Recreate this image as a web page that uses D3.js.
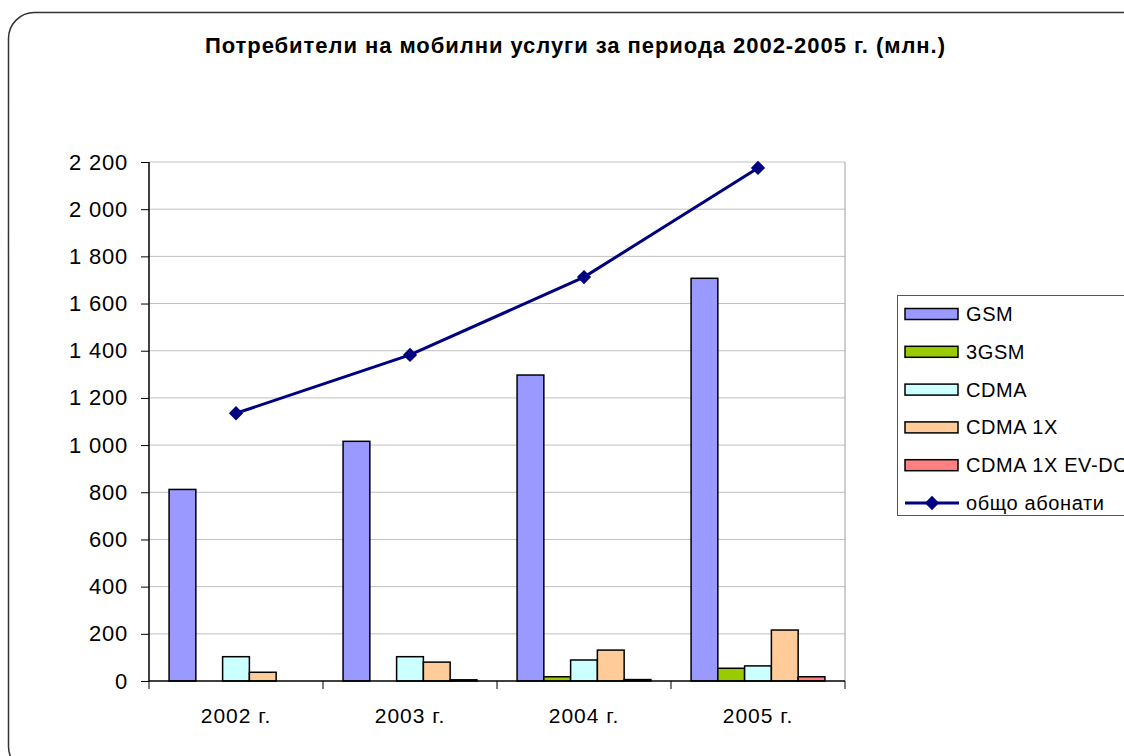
<!DOCTYPE html>
<html>
<head>
<meta charset="utf-8">
<script src="https://cdn.jsdelivr.net/npm/d3@7"></script>
<style>
  body { margin: 0; background: #fff; }
  svg { display: block; font-family: "Liberation Sans", Arial, sans-serif; }
</style>
</head>
<body>
<div id="chart"></div>
<script>
// data
let years = ["2002 г.", "2003 г.", "2004 г.", "2005 г."];
let seriesNames = ["GSM", "3GSM", "CDMA", "CDMA 1X", "CDMA 1X EV-DO"];
let gsm = [812, 1016, 1297, 1707];
let gsm3 = [0, 0, 18, 54];
let cdma = [103, 103, 89, 64];
let cdma1x = [37, 80, 131, 216];
let evdo = [0, 5, 6, 18];
let total = [1135, 1382, 1712, 2175];
let totalName = "общо абонати";
let yTicks = [0, 200, 400, 600, 800, 1000, 1200, 1400, 1600, 1800, 2000, 2200];

let colors = ["#9999ff", "#99cc00", "#ccffff", "#ffcc99", "#ff8080"];
let lineColor = "#000080";

let width = 1124, height = 756;
let plot = {left: 149, right: 845, top: 162, bottom: 681};

let svg = d3.select("#chart").append("svg")
    .attr("width", width)
    .attr("height", height);

// outer rounded frame
svg.append("rect")
    .attr("x", 8.5).attr("y", 12.5)
    .attr("width", 1140).attr("height", 760)
    .attr("rx", 26).attr("ry", 26)
    .attr("fill", "none")
    .attr("stroke", "#333")
    .attr("stroke-width", 1.5);

svg.append("text")
    .attr("x", 575).attr("y", 53)
    .attr("text-anchor", "middle")
    .attr("font-weight", "bold")
    .attr("font-size", 22)
    .attr("textLength", 740)
    .attr("lengthAdjust", "spacing")
    .text("Потребители на мобилни услуги за периода 2002-2005 г. (млн.)");

let x = d3.scaleBand()
    .domain(years)
    .range([plot.left, plot.right]);

// Excel gap width 150%: bar = band / 6.5, outer gap = 0.75 bar each side
let barW = x.bandwidth() / 6.5;
let xInner = d3.scaleBand()
    .domain(seriesNames)
    .range([barW * 0.75, barW * 5.75]);

let y = d3.scaleLinear()
    .domain([0, 2200])
    .range([plot.bottom, plot.top]);

// gridlines
svg.append("g")
    .selectAll("line")
    .data(yTicks.filter(d => d > 0))
    .join("line")
    .attr("x1", plot.left).attr("x2", plot.right)
    .attr("y1", d => y(d)).attr("y2", d => y(d))
    .attr("stroke", "#c0c0c0")
    .attr("stroke-width", 1);

// right border of plot area
svg.append("line")
    .attr("x1", plot.right).attr("x2", plot.right)
    .attr("y1", plot.top).attr("y2", plot.bottom)
    .attr("stroke", "#a0a0a0");

let allSeries = [gsm, gsm3, cdma, cdma1x, evdo];

let groups = svg.append("g")
    .selectAll("g")
    .data(years)
    .join("g")
    .attr("transform", d => `translate(${x(d)},0)`);

groups.selectAll("rect")
    .data((d, i) => seriesNames.map((s, j) => ({name: s, value: allSeries[j][i], color: colors[j]})))
    .join("rect")
    .filter(d => d.value > 0)
    .attr("x", d => xInner(d.name))
    .attr("width", xInner.bandwidth())
    .attr("y", d => y(d.value))
    .attr("height", d => y(0) - y(d.value))
    .attr("fill", d => d.color)
    .attr("stroke", "#000")
    .attr("stroke-width", 1.5);

// axes
let yAxis = d3.axisLeft(y)
    .tickValues(yTicks)
    .tickSize(8)
    .tickPadding(13)
    .tickFormat(d => d3.format(",")(d).replace(",", " "));

let gy = svg.append("g")
    .attr("transform", `translate(${plot.left},0)`)
    .call(yAxis);
gy.attr("font-family", null);
gy.selectAll("text")
    .attr("font-size", 22)
    .attr("letter-spacing", 0.8)
    .attr("fill", "#000");
gy.selectAll("line").attr("stroke", "#000");
gy.select(".domain").attr("stroke", "#000").attr("stroke-width", 1.5).attr("d", `M0,${plot.top}V${plot.bottom}`);

let xAxisLine = svg.append("g")
    .attr("transform", `translate(0,${plot.bottom})`);
xAxisLine.append("line")
    .attr("x1", plot.left).attr("x2", plot.right)
    .attr("stroke", "#000").attr("stroke-width", 1.5);
xAxisLine.selectAll(".tk")
    .data(years.map(d => x(d)).concat([plot.right]))
    .join("line")
    .attr("class", "tk")
    .attr("x1", d => d).attr("x2", d => d)
    .attr("y1", 0).attr("y2", 8)
    .attr("stroke", "#000");
xAxisLine.selectAll("text")
    .data(years)
    .join("text")
    .attr("x", d => x(d) + x.bandwidth() / 2)
    .attr("y", 42)
    .attr("text-anchor", "middle")
    .attr("font-size", 21)
    .attr("letter-spacing", 1)
    .text(d => d);

// total line
let line = d3.line()
    .x((d, i) => x(years[i]) + x.bandwidth() / 2)
    .y(d => y(d));

svg.append("path")
    .datum(total)
    .attr("d", line)
    .attr("fill", "none")
    .attr("stroke", lineColor)
    .attr("stroke-width", 3);

let diamond = d3.symbol().type(d3.symbolDiamond2).size(130);
svg.append("g")
    .selectAll("path")
    .data(total)
    .join("path")
    .attr("transform", (d, i) => `translate(${x(years[i]) + x.bandwidth() / 2},${y(d)})`)
    .attr("d", diamond)
    .attr("fill", lineColor);

// legend
let lg = svg.append("g").attr("transform", "translate(897,295)");
lg.append("rect")
    .attr("x", 0.5).attr("y", 0.5)
    .attr("width", 260).attr("height", 220)
    .attr("fill", "#fff")
    .attr("stroke", "#555");

let legendItems = seriesNames.map((s, j) => ({name: s, color: colors[j]}));
let rowY = d3.scalePoint()
    .domain(seriesNames.concat([totalName]))
    .range([19, 208]);

lg.selectAll(".sw")
    .data(legendItems)
    .join("rect")
    .attr("class", "sw")
    .attr("x", 8).attr("width", 53)
    .attr("y", d => rowY(d.name) - 5.5)
    .attr("height", 11)
    .attr("fill", d => d.color)
    .attr("stroke", "#000")
    .attr("stroke-width", 1.5);

lg.append("line")
    .attr("x1", 8).attr("x2", 62)
    .attr("y1", rowY(totalName)).attr("y2", rowY(totalName))
    .attr("stroke", lineColor).attr("stroke-width", 3);
lg.append("path")
    .attr("transform", `translate(35,${rowY(totalName)})`)
    .attr("d", diamond)
    .attr("fill", lineColor);

lg.selectAll(".lt")
    .data(seriesNames.concat([totalName]))
    .join("text")
    .attr("class", "lt")
    .attr("x", 69)
    .attr("y", d => rowY(d))
    .attr("dy", "0.35em")
    .attr("font-size", 20)
    .attr("letter-spacing", 0.6)
    .text(d => d);
</script>
</body>
</html>
